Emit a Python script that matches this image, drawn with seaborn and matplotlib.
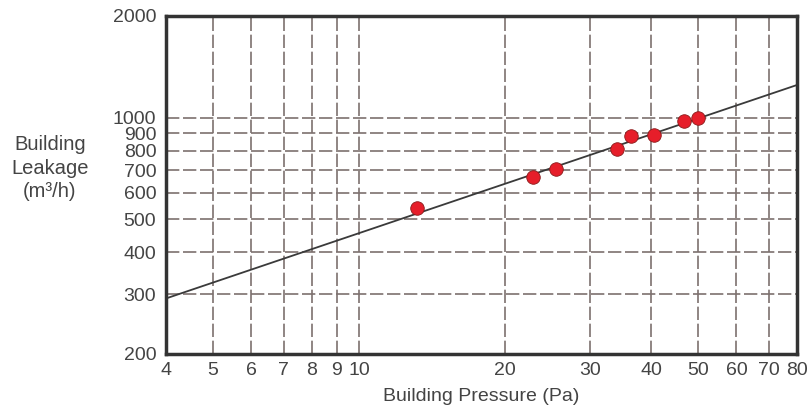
import numpy as np
import pandas as pd
import matplotlib
matplotlib.use("Agg")
import matplotlib.pyplot as plt
import matplotlib.ticker as mticker
import seaborn as sns

# measured points (pressure in Pa, leakage in m3/h)
pressure = [13.2, 22.8, 25.5, 34.0, 36.4, 40.6, 46.8, 50.0]
leakage = [541, 668, 705, 808, 883, 889, 978, 998]

# fitted power-law line, end points
fit_pressure = [4, 80]
fit_leakage = [292, 1250]

x_ticks = [4, 5, 6, 7, 8, 9, 10, 20, 30, 40, 50, 60, 70, 80]
y_ticks = [200, 300, 400, 500, 600, 700, 800, 900, 1000, 2000]

df_pts = pd.DataFrame({'Pressure': pressure, 'Leakage': leakage})
df_fit = pd.DataFrame({'Pressure': fit_pressure, 'Leakage': fit_leakage})

sns.set_style('white')
plt.rcParams['font.family'] = ['Liberation Sans', 'DejaVu Sans']

txt = '#444444'
grid_c = '#7d716e'
spine_c = '#333333'
fs = 14

fig = plt.figure(figsize=(8.07, 4.09), dpi=100)
ax = fig.add_axes([166 / 807, 55 / 409, 631 / 807, 338 / 409])
ax.set_xscale('log')
ax.set_yscale('log')

# dashed grid (inner ticks only)
for xv in x_ticks[1:-1]:
    ax.axvline(xv, color=grid_c, lw=1.2, ls=(0, (8, 2.2)), zorder=1)
for yv in y_ticks[1:-1]:
    ax.axhline(yv, color=grid_c, lw=1.2, ls=(0, (8, 2.2)), zorder=1)

sns.lineplot(data=df_fit, x='Pressure', y='Leakage', ax=ax, color='#3a3a3a', lw=1.3, zorder=2)
sns.scatterplot(data=df_pts, x='Pressure', y='Leakage', ax=ax, color='#e61e2a',
                edgecolor='#8a1a1a', linewidth=0.6, s=95, zorder=3)

ax.set_xlim(4, 80)
ax.set_ylim(200, 2000)

ax.xaxis.set_major_locator(mticker.FixedLocator(x_ticks))
ax.xaxis.set_minor_locator(mticker.NullLocator())
ax.xaxis.set_major_formatter(mticker.FixedFormatter([str(v) for v in x_ticks]))
ax.yaxis.set_major_locator(mticker.FixedLocator(y_ticks))
ax.yaxis.set_minor_locator(mticker.NullLocator())
ax.yaxis.set_major_formatter(mticker.FixedFormatter([str(v) for v in y_ticks]))

ax.tick_params(axis='x', direction='in', length=8, width=1.2, color=spine_c,
               labelsize=fs, labelcolor=txt, pad=6)
ax.tick_params(axis='y', direction='out', length=6, width=1.5, color=spine_c,
               labelsize=fs, labelcolor=txt, pad=1)

for sp in ax.spines.values():
    sp.set_color(spine_c)
    sp.set_linewidth(2.5)
    sp.set_visible(True)

ax.set_xlabel('Building Pressure (Pa)', fontsize=fs, color=txt, labelpad=6)
ax.set_ylabel('')
fig.text(50 / 807, 1 - 168 / 409, 'Building\nLeakage\n(m³/h)', ha='center', va='center',
         fontsize=14.5, color=txt, linespacing=1.3)

fig.savefig('out.png', dpi=100)
